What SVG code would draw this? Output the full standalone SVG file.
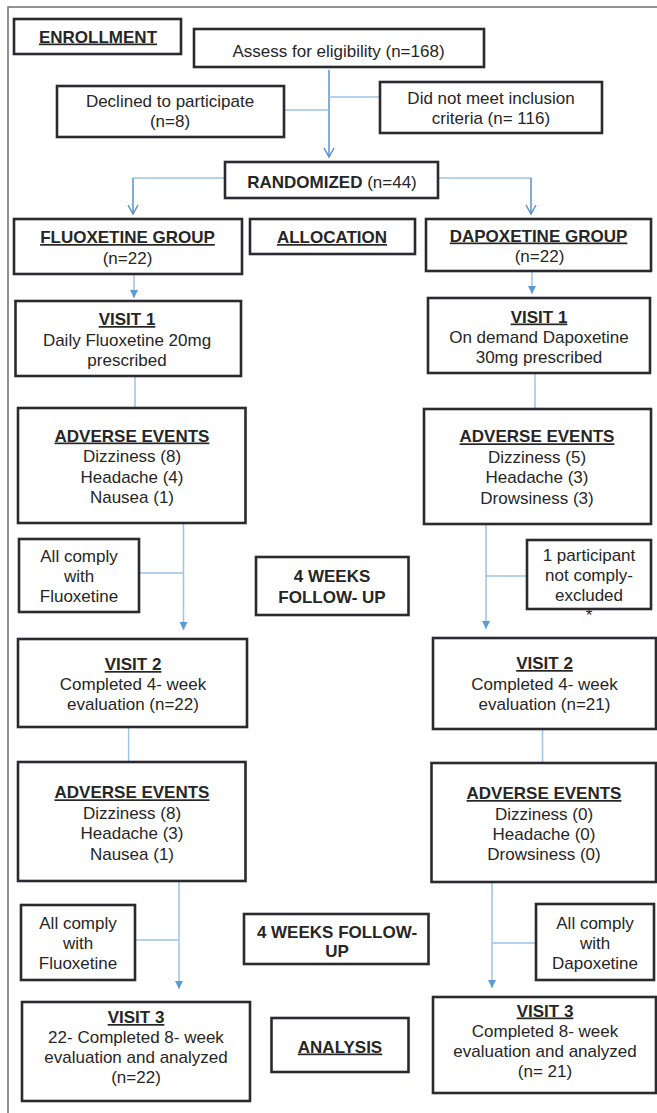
<svg xmlns="http://www.w3.org/2000/svg" width="657" height="1113" viewBox="0 0 657 1113">
<style>
.box{fill:#fff;stroke:#2a2a30;stroke-width:2.6}
text{font-family:"Liberation Sans",Arial,sans-serif;font-size:17px;fill:#262626;text-anchor:middle}
.b{font-weight:bold;text-decoration:underline}
.bn{font-weight:bold}
.ln{fill:none;stroke:#9DC3E6;stroke-width:1.5}
.ld{fill:none;stroke:#5B8FCC;stroke-width:1.5}
</style>
<defs>
<marker id="fa" markerUnits="userSpaceOnUse" markerWidth="8" markerHeight="8" refX="8" refY="4" orient="auto"><path d="M0,0 L8,4 L0,8 z" fill="#5B9BD5"/></marker>
<marker id="oa" markerUnits="userSpaceOnUse" markerWidth="12" markerHeight="12" refX="10" refY="6" orient="auto"><path d="M1,1 L10,6 L1,11" fill="none" stroke="#5B8FCC" stroke-width="1.5"/></marker>
</defs>
<rect x="8" y="7" width="720" height="1200" fill="none" stroke="#6e6e6e" stroke-width="1.5"/>
<g id="connectors">
<path class="ld" d="M329,70 V157" marker-end="url(#oa)"/>
<path class="ln" d="M284,110 H329"/>
<path class="ln" d="M329,97 H380"/>
<path class="ln" d="M225,178 H133"/>
<path class="ld" d="M133,178 V214" marker-end="url(#oa)"/>
<path class="ln" d="M438,178 H531"/>
<path class="ld" d="M531,178 V214" marker-end="url(#oa)"/>
<path class="ln" d="M134,274 V298" marker-end="url(#fa)"/>
<path class="ln" d="M532,271 V294" marker-end="url(#fa)"/>
<path class="ln" d="M135,376 V408"/>
<path class="ln" d="M535,373 V409"/>
<path class="ln" d="M183.5,523 V630" marker-end="url(#fa)"/>
<path class="ln" d="M139,573 H183.5"/>
<path class="ln" d="M486,524 V629" marker-end="url(#fa)"/>
<path class="ln" d="M486,576 H527"/>
<path class="ln" d="M128.6,727 V762"/>
<path class="ln" d="M542.5,729 V763"/>
<path class="ln" d="M179,881 V989" marker-end="url(#fa)"/>
<path class="ln" d="M135,940 H179"/>
<path class="ln" d="M492,882 V988" marker-end="url(#fa)"/>
<path class="ln" d="M492,943 H536"/>
</g>
<g id="enrollment"><rect class="box" x="14" y="19" width="167" height="35"/><text x="98" y="42.5" class="b">ENROLLMENT</text></g>
<g id="assess"><rect class="box" x="194" y="29" width="290" height="38"/><text x="338.5" y="56.5">Assess for eligibility (n=168)</text></g>
<g id="declined"><rect class="box" x="57" y="86" width="227" height="51"/><text x="170" y="107">Declined to participate</text><text x="170" y="127">(n=8)</text></g>
<g id="notmeet"><rect class="box" x="380" y="82" width="222" height="51"/><text x="491" y="104">Did not meet inclusion</text><text x="491" y="124">criteria (n= 116)</text></g>
<g id="randomized"><rect class="box" x="225" y="162" width="213" height="36"/><text x="332" y="188"><tspan class="bn">RANDOMIZED</tspan> (n=44)</text></g>
<g id="fluox-group"><rect class="box" x="14" y="219" width="228" height="55"/><text x="127.5" y="243" class="b">FLUOXETINE GROUP</text><text x="127.5" y="264">(n=22)</text></g>
<g id="allocation"><rect class="box" x="250" y="219" width="165" height="35"/><text x="332" y="243" class="b">ALLOCATION</text></g>
<g id="dapox-group"><rect class="box" x="426" y="219" width="225" height="52"/><text x="538.5" y="241.5" class="b">DAPOXETINE GROUP</text><text x="539.5" y="262">(n=22)</text></g>
<g id="visit1-f"><rect class="box" x="15.5" y="301" width="225.5" height="75"/><text x="127" y="325" class="b">VISIT 1</text><text x="127" y="345.5">Daily Fluoxetine 20mg</text><text x="127" y="365.5">prescribed</text></g>
<g id="visit1-d"><rect class="box" x="428" y="298" width="222" height="75"/><text x="539" y="322.5" class="b">VISIT 1</text><text x="539" y="343">On demand Dapoxetine</text><text x="539" y="363">30mg prescribed</text></g>
<g id="ae1-f"><rect class="box" x="18" y="408" width="227.5" height="115"/><text x="132" y="441.5" class="b">ADVERSE EVENTS</text><text x="132" y="462">Dizziness (8)</text><text x="132" y="482.5">Headache (4)</text><text x="132" y="503">Nausea (1)</text></g>
<g id="ae1-d"><rect class="box" x="424" y="409" width="227" height="115"/><text x="537" y="442.3" class="b">ADVERSE EVENTS</text><text x="537" y="462.5">Dizziness (5)</text><text x="537" y="483">Headache (3)</text><text x="537" y="503.5">Drowsiness (3)</text></g>
<g id="comply1-f"><rect class="box" x="19" y="539" width="120" height="73"/><text x="79" y="561.7">All comply</text><text x="79" y="581.7">with</text><text x="79" y="601.7">Fluoxetine</text></g>
<g id="followup1"><rect class="box" x="256" y="557" width="152.5" height="58"/><text x="332" y="582.3" class="bn">4 WEEKS</text><text x="332" y="603" class="bn">FOLLOW- UP</text></g>
<g id="excluded"><rect class="box" x="527" y="540" width="124" height="69"/><text x="589" y="560.5">1 participant</text><text x="589" y="580.5">not comply-</text><text x="589" y="600.5">excluded</text><text x="589" y="621">*</text></g>
<g id="visit2-f"><rect class="box" x="18" y="639" width="229" height="88"/><text x="133" y="670" class="b">VISIT 2</text><text x="133" y="690">Completed 4- week</text><text x="133" y="710">evaluation (n=22)</text></g>
<g id="visit2-d"><rect class="box" x="433" y="638" width="223" height="91"/><text x="544.5" y="669" class="b">VISIT 2</text><text x="544.5" y="689.5">Completed 4- week</text><text x="544.5" y="709.5">evaluation (n=21)</text></g>
<g id="ae2-f"><rect class="box" x="18" y="762" width="227.5" height="119"/><text x="132" y="798.3" class="b">ADVERSE EVENTS</text><text x="132" y="818.7">Dizziness (8)</text><text x="132" y="839">Headache (3)</text><text x="132" y="859.5">Nausea (1)</text></g>
<g id="ae2-d"><rect class="box" x="431.5" y="763" width="224.5" height="119"/><text x="544" y="799" class="b">ADVERSE EVENTS</text><text x="544" y="819.5">Dizziness (0)</text><text x="544" y="840">Headache (0)</text><text x="544" y="860">Drowsiness (0)</text></g>
<g id="comply2-f"><rect class="box" x="21" y="905" width="114" height="75"/><text x="78" y="928.5">All comply</text><text x="78" y="948.5">with</text><text x="78" y="968.5">Fluoxetine</text></g>
<g id="followup2"><rect class="box" x="244" y="914" width="184.5" height="50"/><text x="337" y="937.7" class="bn">4 WEEKS FOLLOW-</text><text x="337" y="957" class="bn">UP</text></g>
<g id="comply2-d"><rect class="box" x="536" y="904" width="118" height="76"/><text x="595" y="928.5">All comply</text><text x="595" y="948.5">with</text><text x="595" y="968.5">Dapoxetine</text></g>
<g id="visit3-f"><rect class="box" x="22" y="1002" width="228" height="99"/><text x="136" y="1023" class="b">VISIT 3</text><text x="136" y="1043">22- Completed 8- week</text><text x="136" y="1063">evaluation and analyzed</text><text x="136" y="1083">(n=22)</text></g>
<g id="analysis"><rect class="box" x="271.5" y="1018" width="137" height="54"/><text x="340" y="1052.5" class="b">ANALYSIS</text></g>
<g id="visit3-d"><rect class="box" x="433" y="997" width="223" height="96"/><text x="545" y="1016.5" class="b">VISIT 3</text><text x="545" y="1037">Completed 8- week</text><text x="545" y="1057">evaluation and analyzed</text><text x="545" y="1077">(n= 21)</text></g>
</svg>
